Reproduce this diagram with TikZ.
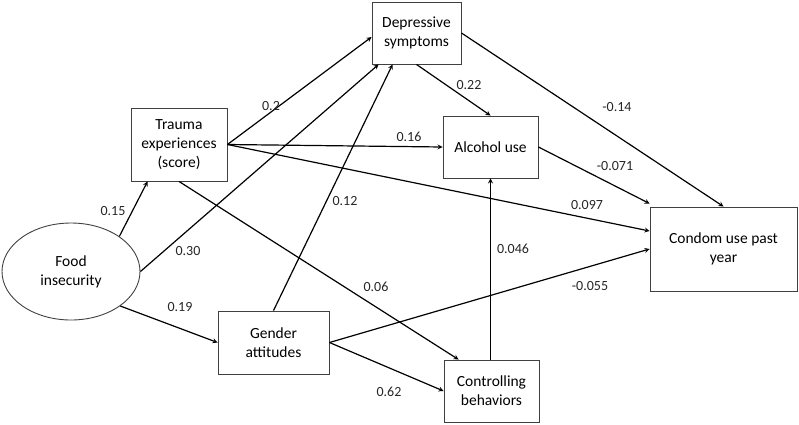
\documentclass[tikz,border=0pt]{standalone}
\usepackage{fontspec}
\setmainfont{Carlito}
\usepackage{xcolor}
\usepackage{tikz}
\usetikzlibrary{shapes.geometric}

\begin{document}
\begin{tikzpicture}[x=1pt, y=-1pt,
                boxnode/.style={rectangle, draw=black!75, line width=0.9pt, align=center, inner sep=2pt, font=\fontsize{15.5}{19}\selectfont},
                ellipsenode/.style={ellipse, draw=black!75, line width=0.9pt, align=center, minimum width=138pt, minimum height=97pt, font=\fontsize{15.5}{19}\selectfont},
                weight/.style={font=\fontsize{14}{16}\selectfont, text=black!85, inner sep=0pt},
                arrow/.style={line width=1.2pt,->,>=stealth}
                ]
                \useasboundingbox (0,0) rectangle (799,424);
                % variables
                \node[ellipsenode] (food) at (71,271.5) {Food\\insecurity};
                \node[boxnode, minimum width=96pt, minimum height=73pt] (trauma) at (179,144.5) {Trauma\\experiences\\(score)};
                \node[boxnode, minimum width=111pt, minimum height=63pt] (gender) at (273.5,342.5) {Gender\\attitudes};
                \node[boxnode, minimum width=89pt, minimum height=62pt] (depressive) at (416.5,33) {Depressive\\symptoms};
                \node[boxnode, minimum width=95pt, minimum height=62pt] (alcohol) at (490.5,147) {Alcohol use};
                \node[boxnode, minimum width=95pt, minimum height=62pt] (controlling) at (491.5,391) {Controlling\\behaviors};
                \node[boxnode, minimum width=147pt, minimum height=84pt] (condom) at (723.5,249) {Condom use past\\year};
                % paths
                \draw[arrow] (food.36) -- ([xshift=17pt]trauma.south west);
                \draw[arrow] (food.east) -- ([xshift=7pt]depressive.south west);
                \draw[arrow] (food.-35) -- (gender.west);
                \draw[arrow] (trauma.east) -- ([yshift=-4pt]depressive.west);
                \draw[arrow] (trauma.east) -- (alcohol.west);
                \draw[arrow] (trauma.east) -- ([yshift=18pt]condom.west);
                \draw[arrow] (trauma.south) -- ([xshift=15pt]controlling.north west);
                \draw[arrow] (gender.north) -- ([xshift=21pt]depressive.south west);
                \draw[arrow] (gender.east) -- (condom.west);
                \draw[arrow] (gender.east) -- (controlling.west);
                \draw[arrow] (depressive.south) -- (alcohol.north);
                \draw[arrow] (depressive.east) -- (condom.north);
                \draw[arrow] (alcohol.east) -- ([yshift=3pt]condom.north west);
                \draw[arrow] (controlling.north -| alcohol.south) -- (alcohol.south);
                % weights
                \node[weight] (w15) at (113,211) {0.15};
                \node[weight] (w30) at (188,251) {0.30};
                \node[weight] (w19) at (180,307) {0.19};
                \node[weight] (w12) at (345,201) {0.12};
                \node[weight] (w2) at (271,106) {0.2};
                \node[weight] (w16) at (409,137) {0.16};
                \node[weight] (w097) at (587,205) {0.097};
                \node[weight] (w06) at (376,287) {0.06};
                \node[weight] (w22) at (469,85) {0.22};
                \node[weight] (w14) at (617,107) {-0.14};
                \node[weight] (w071) at (615,166) {-0.071};
                \node[weight] (w046) at (513,249) {0.046};
                \node[weight] (w055) at (590,286) {-0.055};
                \node[weight] (w62) at (389,392) {0.62};
            \end{tikzpicture}
\end{document}
